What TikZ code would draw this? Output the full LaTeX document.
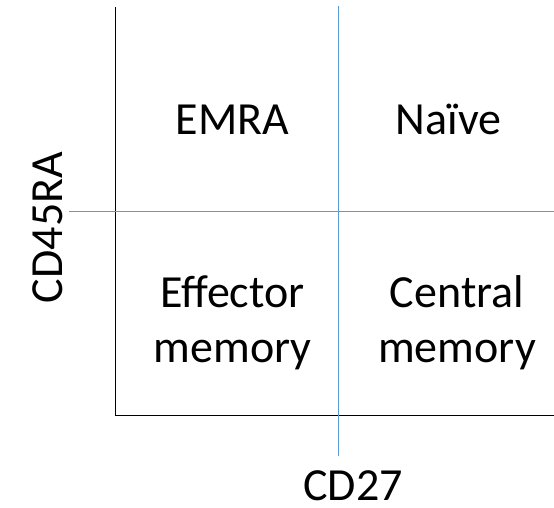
\documentclass[tikz,border=0pt]{standalone}
\usepackage{fontspec}
\setmainfont{Carlito}
\definecolor{gateblue}{RGB}{91,155,213}
\tikzset{
  quad/.style={font=\fontsize{46}{55}\selectfont, align=center, anchor=base, inner sep=0pt},
  gate/.style={gateblue, line width=1.2pt},
}
\begin{document}
\begin{tikzpicture}[x=1pt,y=-1pt]
  \useasboundingbox (0,0) rectangle (554,508);
  \coordinate (ytop) at (115.5,7);
  \coordinate (origin) at (115.5,415.5);
  \coordinate (xend) at (554,415.5);
  \coordinate (gtop) at (338.5,6);
  \coordinate (gbot) at (338.5,456);
  \coordinate (gleft) at (69,211.5);
  \coordinate (gright) at (554,211.5);
  \draw[line width=1.3pt] (ytop)--(origin)--(xend);
  \draw[gate] (gtop)--(gbot);
  \draw[gate] (gleft)--(gright);
  \node[quad] (emra) at (232.5,135) {EMRA};
  \node[quad] (naive) at (448.5,135) {Naïve};
  \node[quad] (effmem) at (232.5,362) {Effector\\memory};
  \node[quad] (cenmem) at (457,362) {Central\\memory};
  \node[quad,text depth=0pt] (cd27) at (353,500) {CD27};
  \node[quad,rotate=90] (cd45ra) at (62,227.5) {CD45RA};
\end{tikzpicture}
\end{document}
